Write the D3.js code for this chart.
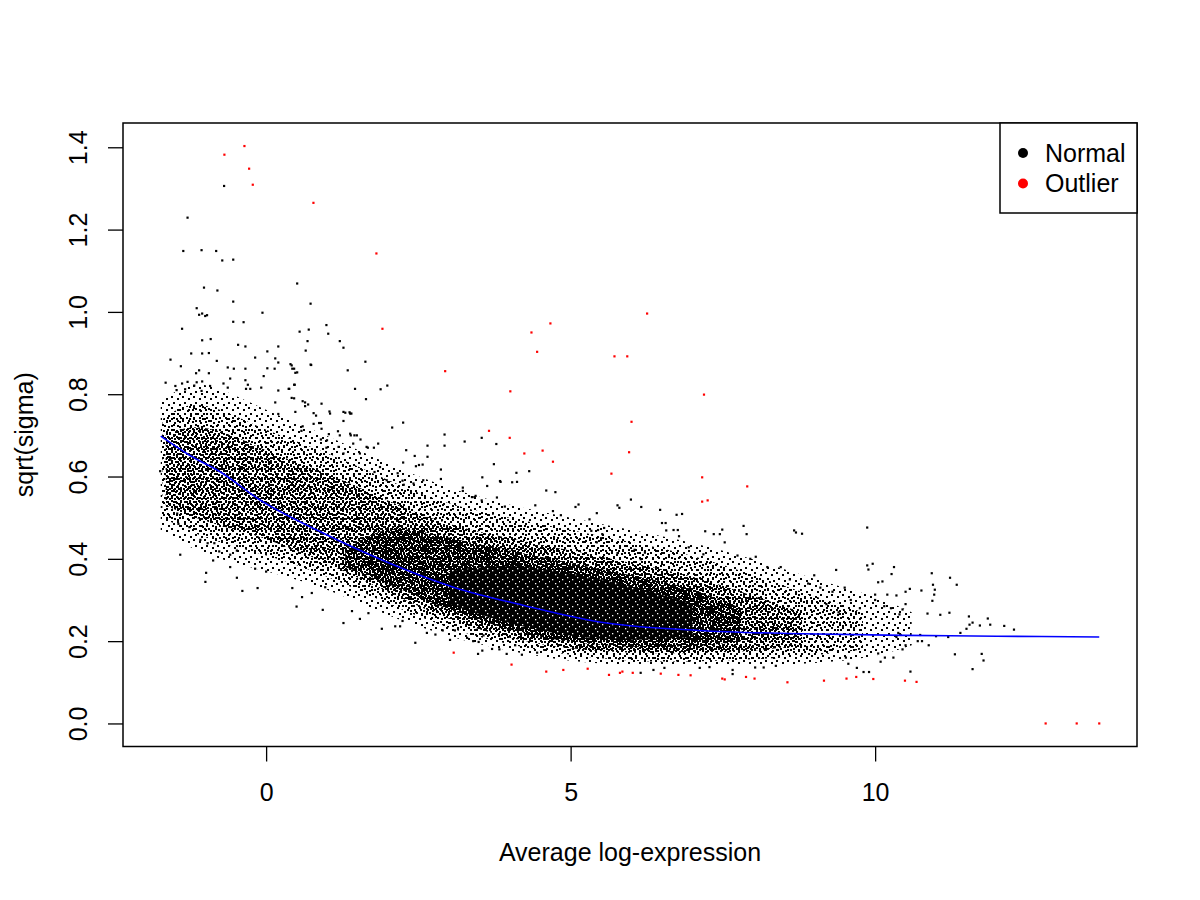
<!DOCTYPE html>
<html>
<head>
<meta charset="utf-8">
<script src="https://cdn.jsdelivr.net/npm/d3@7"></script>
<style>
body { margin: 0; background: #fff; }
text { font-family: "Liberation Sans", Arial, Helvetica, sans-serif; }
</style>
</head>
<body>
<svg id="chart" width="1200" height="900"></svg>
<script>
// ---- values ----
var xLim = [-2.35, 14.30];
var yLim = [-0.056, 1.459];
var xTicks = [0, 5, 10];
var yTicks = [0, 0.2, 0.4, 0.6, 0.8, 1.0, 1.2, 1.4];
var xTitle = "Average log-expression";
var yTitle = "sqrt(sigma)";
var legendLabels = ["Normal", "Outlier"];

// fitted trend (blue)
var trendX = [-1.73, -1.25, -0.75, -0.1, 0.9, 2.0, 3.1, 4.2, 5.5, 7.1, 8.8, 10.5, 12.0, 13.68];
var trendY = [0.698, 0.651, 0.611, 0.543, 0.465, 0.391, 0.330, 0.288, 0.246, 0.226, 0.218, 0.214, 0.212, 0.210];

// envelopes of the normal genes where the dots merge, from thin to thick
var band1X  = [-1.73, -1.3, -0.8, 0, 1, 2, 3, 4, 5, 6, 7, 8, 9, 10, 10.6];
var band1Lo = [0.47, 0.43, 0.40, 0.37, 0.33, 0.26, 0.21, 0.175, 0.15, 0.14, 0.14, 0.14, 0.145, 0.16, 0.19];
var band1Hi = [0.78, 0.83, 0.82, 0.76, 0.70, 0.63, 0.57, 0.53, 0.50, 0.47, 0.44, 0.40, 0.35, 0.31, 0.27];

var band2X  = [-1.7, -1.3, -0.8, 0, 1, 2, 3, 4, 5, 6, 7, 8, 9, 9.8];
var band2Lo = [0.50, 0.47, 0.44, 0.41, 0.36, 0.29, 0.23, 0.19, 0.165, 0.15, 0.15, 0.155, 0.165, 0.18];
var band2Hi = [0.74, 0.78, 0.77, 0.71, 0.66, 0.59, 0.53, 0.50, 0.47, 0.44, 0.41, 0.36, 0.31, 0.27];

var band3X  = [-1.65, -1.2, -0.5, 0, 1, 2, 3, 4, 5, 6, 7, 8, 8.8];
var band3Lo = [0.53, 0.50, 0.47, 0.45, 0.39, 0.32, 0.25, 0.205, 0.18, 0.17, 0.17, 0.175, 0.19];
var band3Hi = [0.70, 0.73, 0.70, 0.66, 0.61, 0.54, 0.48, 0.45, 0.42, 0.39, 0.36, 0.31, 0.27];

var band4X  = [1.3, 2, 3, 4, 5, 6, 7, 7.8];
var band4Lo = [0.38, 0.34, 0.275, 0.225, 0.195, 0.185, 0.185, 0.20];
var band4Hi = [0.42, 0.49, 0.45, 0.42, 0.39, 0.36, 0.33, 0.28];

var coreX  = [3.0, 4, 5, 6, 7.0];
var coreLo = [0.29, 0.24, 0.21, 0.20, 0.21];
var coreHi = [0.37, 0.39, 0.365, 0.335, 0.29];

// single normal genes outside the dense cloud
var normalPts = [
  [-0.69,1.306],[-1.29,1.229],[-1.36,1.148],[-1.06,1.150],[-0.82,1.148],[-0.72,1.125],[-0.54,1.127],
  [-1.02,1.059],[-0.80,1.052],[0.51,1.069],[-0.54,1.025],[-1.14,1.009],[-1.10,0.993],[-1.05,0.996],
  [-1.00,0.990],[-0.97,0.992],[-0.06,0.998],[0.73,1.020],[-0.54,0.976],[-0.37,0.975],[-1.38,0.959],
  [0.99,0.968],[0.55,0.952],[0.70,0.957],[1.02,0.947],[-1.05,0.931],[-0.91,0.934],[0.68,0.929],
  [1.21,0.929],[1.27,0.913],[-0.46,0.920],[-0.34,0.916],[-1.23,0.899],[-1.05,0.899],[-0.94,0.900],
  [0.02,0.904],[0.65,0.906],[0.20,0.916],[-0.18,0.889],[0.15,0.887],[-1.57,0.884],[-0.81,0.881],
  [1.63,0.879],[1.34,0.858],[-1.40,0.868],[-0.63,0.865],[-0.53,0.862],[-0.34,0.862],[0.02,0.863],
  [0.14,0.862],[0.42,0.870],[0.46,0.862],[0.51,0.853],[0.73,0.872],[-1.15,0.851],[-1.10,0.858],
  [-0.94,0.851],[-1.65,0.828],[-1.38,0.826],[-1.29,0.830],[-1.14,0.829],[-1.05,0.831],[-0.59,0.838],
  [-0.34,0.834],[-0.04,0.844],[0.47,0.823],[-1.49,0.820],[-1.18,0.821],[-0.92,0.820],[-0.70,0.826],
  [-0.63,0.816],[-0.30,0.823],[-0.26,0.813],[-0.33,0.813],[-0.08,0.816],[0.20,0.809],[0.38,0.813],
  [1.46,0.813],[1.88,0.812],[1.99,0.821],[1.64,0.788],[-1.47,0.810],[-1.33,0.812],[-1.06,0.808],
  [0.91,0.777],[1.04,0.758],[1.27,0.757],[1.37,0.756],[0.64,0.780],[0.69,0.775],[0.46,0.790],
  [0.48,0.757],[0.15,0.780],[0.20,0.752],[0.20,0.877],[0.40,0.873],[0.43,0.862],[0.48,0.852],
  [0.46,0.823],[0.37,0.813],[0.42,0.791],[0.60,0.783],[0.64,0.771],[0.74,0.871],[0.78,0.754],
  [0.82,0.748],[1.30,0.755],[1.40,0.753],[1.27,0.735],[2.07,0.719],[2.25,0.731],[1.18,0.710],
  [1.21,0.700],[1.39,0.700],[1.45,0.700],[1.55,0.690],[1.67,0.670],[1.77,0.670],[1.84,0.680],
  [0.90,0.730],[0.87,0.730],[1.03,0.703],[0.60,0.722],[0.58,0.711],[0.90,0.690],[0.99,0.670],
  [2.93,0.702],[2.93,0.675],[3.26,0.685],[3.54,0.694],[3.78,0.679],[2.65,0.675],[2.30,0.664],
  [2.44,0.650],[2.65,0.648],[2.25,0.634],[3.74,0.630],[2.46,0.625],[2.51,0.628],[2.57,0.629],
  [4.11,0.609],[4.32,0.613],[2.87,0.594],[3.55,0.598],[3.85,0.587],[4.04,0.586],[4.12,0.587],
  [2.42,0.583],[2.58,0.591],[3.63,0.577],[3.23,0.573],[3.23,0.565],[4.60,0.566],[4.75,0.562],
  [2.24,0.590],[2.26,0.580],[3.44,0.553],[3.38,0.550],[3.42,0.550],[3.54,0.542],[3.79,0.549],
  [3.92,0.527],[4.42,0.530],[4.71,0.516],[4.84,0.506],[5.08,0.526],[5.13,0.532],[5.43,0.511],
  [5.77,0.530],[5.80,0.524],[5.99,0.544],[6.16,0.526],[6.47,0.519],[6.74,0.507],[6.83,0.509],
  [5.31,0.496],[5.34,0.468],[5.45,0.470],[5.50,0.450],[5.52,0.460],[5.43,0.440],[5.55,0.475],
  [6.50,0.487],[6.56,0.487],[6.57,0.469],[6.69,0.470],[6.76,0.470],[6.78,0.455],[7.21,0.467],
  [7.49,0.471],[7.35,0.460],[7.45,0.460],[7.53,0.440],[7.84,0.480],[7.89,0.460],[8.67,0.469],
  [8.70,0.464],[7.74,0.408],[8.04,0.405],[7.95,0.400],[8.23,0.380],[8.45,0.380],[7.18,0.411],
  [6.94,0.428],[6.22,0.415],[6.15,0.399],[6.05,0.422],[5.77,0.414],[2.87,0.617],[3.84,0.589],
  [1.78,0.611],[1.87,0.623],[1.98,0.591],[2.16,0.608],[1.54,0.656],[1.65,0.672],[1.43,0.680],
  [1.49,0.700],[1.38,0.704],[1.19,0.672],[1.27,0.656],[1.00,0.688],[0.91,0.716],[0.78,0.728],
  [1.05,0.753],[1.38,0.753],
  [2.45,0.196],[2.24,0.249],[2.64,0.220],[2.78,0.216],[2.90,0.226],[3.02,0.203],[3.49,0.198],
  [3.55,0.177],[3.48,0.169],[3.83,0.180],[3.95,0.169],[4.20,0.167],[4.45,0.172],[6.15,0.123],
  [6.36,0.130],[6.54,0.135],[7.12,0.135],[7.28,0.137],[7.66,0.130],[7.66,0.120],[8.03,0.136],
  [8.17,0.136],[8.37,0.140],[3.71,0.181],[4.09,0.190],[3.10,0.226],[3.30,0.208],[3.40,0.200],
  [3.57,0.214],
  [-1.74,0.613],[-1.57,0.641],[-1.41,0.410],[-0.985,0.366],[-0.997,0.344],[-0.59,0.380],[-0.48,0.354],
  [-0.39,0.322],[-0.14,0.329],[-0.18,0.376],[0.00,0.369],[-1.08,0.446],[-0.96,0.438],[-0.85,0.438],
  [-1.26,0.477],[-1.44,0.485],[-1.49,0.526],[-1.46,0.510],[-0.77,0.418],[-0.87,0.396],[-0.59,0.410],
  [-0.48,0.420],[0.43,0.329],[0.50,0.284],[0.59,0.307],[0.75,0.317],[0.93,0.276],[0.97,0.331],
  [1.27,0.244],[1.41,0.273],[1.54,0.254],[1.68,0.268],[1.90,0.230],[2.12,0.236],[2.20,0.236],
  [8.80,0.461],[9.87,0.476],[9.87,0.384],[9.96,0.388],[9.89,0.374],[10.31,0.380],[9.36,0.373],
  [10.27,0.363],[10.93,0.365],[11.23,0.354],[11.34,0.337],[10.95,0.337],[10.98,0.325],[10.97,0.313],
  [10.94,0.298],[10.76,0.323],[10.57,0.327],[10.50,0.320],[10.05,0.343],[10.12,0.345],[10.00,0.313],
  [10.20,0.313],[10.35,0.311],[10.00,0.300],[10.15,0.285],[10.26,0.280],[10.40,0.265],[10.45,0.277],
  [10.50,0.290],[10.86,0.267],[11.07,0.264],[11.22,0.269],[11.54,0.260],[11.60,0.245],[11.55,0.240],
  [11.72,0.238],[11.85,0.255],[11.89,0.240],[12.12,0.237],[12.28,0.228],[11.40,0.220],[11.50,0.230],
  [11.20,0.210],[11.00,0.212],[10.88,0.190],[10.74,0.215],[10.77,0.200],[10.70,0.200],[11.31,0.168],
  [11.75,0.169],[11.78,0.153],[11.60,0.132],[10.58,0.126],[10.45,0.180],[10.50,0.190],[10.35,0.210],
  [10.42,0.215],[10.38,0.220],[10.05,0.170],[10.09,0.150],[10.16,0.160],[10.30,0.160],[9.90,0.125],
  [9.81,0.125],[9.70,0.135],[9.56,0.145],[9.52,0.160],[8.90,0.340],[9.10,0.330],[9.30,0.320],
  [9.50,0.330],[9.20,0.290],[9.60,0.300],[9.75,0.280],[9.40,0.270],[9.00,0.360],[8.60,0.350]
];

// outlier genes (red)
var outlierPts = [
  [-0.356,1.403],[-0.685,1.382],[-0.279,1.348],[-0.219,1.309],[0.777,1.265],[1.811,1.142],[1.910,0.959],
  [2.94,0.856],[4.01,0.807],[6.256,0.996],[4.668,0.972],[4.357,0.950],[4.45,0.903],[5.72,0.892],
  [5.93,0.892],[7.19,0.799],[6.00,0.733],[3.66,0.711],[4.00,0.694],[4.54,0.663],[4.24,0.656],
  [5.96,0.659],[4.71,0.636],[5.67,0.607],[7.16,0.598],[7.90,0.576],[7.16,0.539],[7.25,0.542],
  [3.08,0.172],[4.03,0.143],[4.60,0.126],[4.88,0.130],[5.28,0.133],[5.63,0.118],[5.81,0.123],
  [5.85,0.126],[6.02,0.123],[6.48,0.121],[6.77,0.118],[6.97,0.117],[7.49,0.109],[7.53,0.107],
  [7.88,0.113],[8.02,0.109],[8.56,0.100],[9.16,0.104],[9.53,0.109],[9.69,0.113],[9.97,0.108],
  [10.49,0.104],[10.68,0.101],[12.80,0],[13.31,0],[13.68,0]
];

// ---- layout ----
var chart = {
    svgWidth: 1200,
    svgHeight: 900,
    margin: {"top": 123, "bottom": 153.5, "left": 123, "right": 63},
    fontSize: 25,
    dot: 2.2
};
var plotRight = chart.svgWidth - chart.margin.right;
var plotBottom = chart.svgHeight - chart.margin.bottom;

var svg = d3.select("#chart");

svg.append("rect")
    .attr("width", chart.svgWidth)
    .attr("height", chart.svgHeight)
    .attr("fill", "#fff");

var xScale = d3.scaleLinear().domain(xLim).range([chart.margin.left, plotRight]);
var yScale = d3.scaleLinear().domain(yLim).range([plotBottom, chart.margin.top]);

// speckle textures: each layer has its own tile size so the stacked
// tiles do not line up into a visible grid
var defs = svg.append("defs");

function makeSpeck(id, w, h, dots) {
    var p = defs.append("pattern")
        .attr("id", id)
        .attr("patternUnits", "userSpaceOnUse")
        .attr("width", w)
        .attr("height", h);
    p.selectAll("rect").data(dots).join("rect")
        .attr("x", d => d[0])
        .attr("y", d => d[1])
        .attr("width", 2)
        .attr("height", 2)
        .attr("fill", "#000");
}
makeSpeck("speck1", 11, 11, [[1,2],[6,0],[8,6],[3,8]]);
makeSpeck("speck2", 13, 12, [[0,0],[5,2],[10,1],[2,5],[8,5],[11,9],[4,9],[7,10]]);
makeSpeck("speck3", 9, 10, [[0,0],[4,1],[7,3],[2,4],[5,6],[0,7],[7,8],[3,8]]);
makeSpeck("speck4", 8, 8, [[0,0],[3,0],[6,1],[1,3],[4,3],[6,4],[2,6],[5,6],[0,5]]);

var corePat = defs.append("pattern")
    .attr("id", "speckCore")
    .attr("patternUnits", "userSpaceOnUse")
    .attr("width", 10)
    .attr("height", 9);
corePat.append("rect").attr("width", 10).attr("height", 9).attr("fill", "#000");
corePat.selectAll("rect.hole").data([[2,3],[7,1],[5,7],[9,5]]).join("rect")
    .attr("class", "hole")
    .attr("x", d => d[0]).attr("y", d => d[1])
    .attr("width", 1.3).attr("height", 1.3)
    .attr("fill", "#fff");

function bandRows(xs, lo, hi) {
    return xs.map((x, i) => ({x: x, lo: lo[i], hi: hi[i]}));
}

var bandArea = d3.area()
    .x(d => xScale(d.x))
    .y0(d => yScale(d.lo))
    .y1(d => yScale(d.hi))
    .curve(d3.curveBasis);

var cloud = svg.append("g").attr("class", "cloud");

var bands = [
    {rows: bandRows(band1X, band1Lo, band1Hi), fill: "url(#speck1)"},
    {rows: bandRows(band2X, band2Lo, band2Hi), fill: "url(#speck2)"},
    {rows: bandRows(band3X, band3Lo, band3Hi), fill: "url(#speck3)"},
    {rows: bandRows(band4X, band4Lo, band4Hi), fill: "url(#speck4)"},
    {rows: bandRows(coreX, coreLo, coreHi), fill: "url(#speckCore)"}
];

cloud.selectAll("path.band")
    .data(bands)
    .join("path")
    .attr("class", "band")
    .attr("d", d => bandArea(d.rows))
    .attr("fill", d => d.fill);

// single points
cloud.selectAll("rect.normal")
    .data(normalPts)
    .join("rect")
    .attr("class", "normal")
    .attr("x", d => xScale(d[0]) - chart.dot / 2)
    .attr("y", d => yScale(d[1]) - chart.dot / 2)
    .attr("width", chart.dot)
    .attr("height", chart.dot)
    .attr("fill", "#000");

svg.append("g").attr("class", "outliers")
    .selectAll("rect")
    .data(outlierPts)
    .join("rect")
    .attr("x", d => xScale(d[0]) - chart.dot / 2)
    .attr("y", d => yScale(d[1]) - chart.dot / 2)
    .attr("width", chart.dot)
    .attr("height", chart.dot)
    .attr("fill", "#ff0000");

// trend line
var trendLine = d3.line()
    .x((d, i) => xScale(trendX[i]))
    .y(d => yScale(d))
    .curve(d3.curveMonotoneX);

svg.append("path")
    .datum(trendY)
    .attr("d", trendLine)
    .attr("fill", "none")
    .attr("stroke", "#0000ff")
    .attr("stroke-width", 1.6);

// axes
var xAxis = d3.axisBottom(xScale)
    .tickValues(xTicks)
    .tickSize(15)
    .tickPadding(22)
    .tickFormat(d3.format("d"));

var gx = svg.append("g")
    .attr("transform", "translate(0," + plotBottom + ")")
    .call(xAxis);
gx.select(".domain").remove();
gx.selectAll("line").attr("stroke", "#000").attr("stroke-width", 1.3);
gx.selectAll("text")
    .attr("fill", "#000")
    .attr("font-size", chart.fontSize)
    .attr("font-family", "'Liberation Sans', Arial, sans-serif");

var yAxis = d3.axisLeft(yScale)
    .tickValues(yTicks)
    .tickSize(15)
    .tickFormat(d3.format(".1f"));

var gy = svg.append("g")
    .attr("transform", "translate(" + chart.margin.left + ",0)")
    .call(yAxis);
gy.select(".domain").remove();
gy.selectAll("line").attr("stroke", "#000").attr("stroke-width", 1.3);
gy.selectAll("text")
    .attr("x", 0)
    .attr("y", 0)
    .attr("dy", null)
    .attr("text-anchor", "middle")
    .attr("transform", "translate(-36,0) rotate(-90)")
    .attr("fill", "#000")
    .attr("font-size", chart.fontSize)
    .attr("font-family", "'Liberation Sans', Arial, sans-serif");

// plot frame
svg.append("rect")
    .attr("x", chart.margin.left)
    .attr("y", chart.margin.top)
    .attr("width", plotRight - chart.margin.left)
    .attr("height", plotBottom - chart.margin.top)
    .attr("fill", "none")
    .attr("stroke", "#000")
    .attr("stroke-width", 1.5);

// axis titles
svg.append("text")
    .attr("x", (chart.margin.left + plotRight) / 2)
    .attr("y", 861)
    .attr("text-anchor", "middle")
    .attr("font-size", chart.fontSize)
    .text(xTitle);

svg.append("text")
    .attr("transform", "translate(33," + ((chart.margin.top + plotBottom) / 2) + ") rotate(-90)")
    .attr("text-anchor", "middle")
    .attr("font-size", chart.fontSize)
    .text(yTitle);

// legend, top right corner
var legend = svg.append("g").attr("class", "legend");
legend.append("rect")
    .attr("x", 1000)
    .attr("y", chart.margin.top)
    .attr("width", plotRight - 1000)
    .attr("height", 90)
    .attr("fill", "#fff")
    .attr("stroke", "#000")
    .attr("stroke-width", 1.5);

var legendColors = ["#000000", "#ff0000"];
var items = legend.selectAll("g.item")
    .data(legendLabels)
    .join("g")
    .attr("class", "item")
    .attr("transform", (d, i) => "translate(1023," + (153 + i * 30.5) + ")");

items.append("circle")
    .attr("r", 5)
    .attr("fill", (d, i) => legendColors[i]);

items.append("text")
    .attr("x", 22)
    .attr("y", 8.5)
    .attr("font-size", chart.fontSize)
    .text(d => d);
</script>
</body>
</html>
